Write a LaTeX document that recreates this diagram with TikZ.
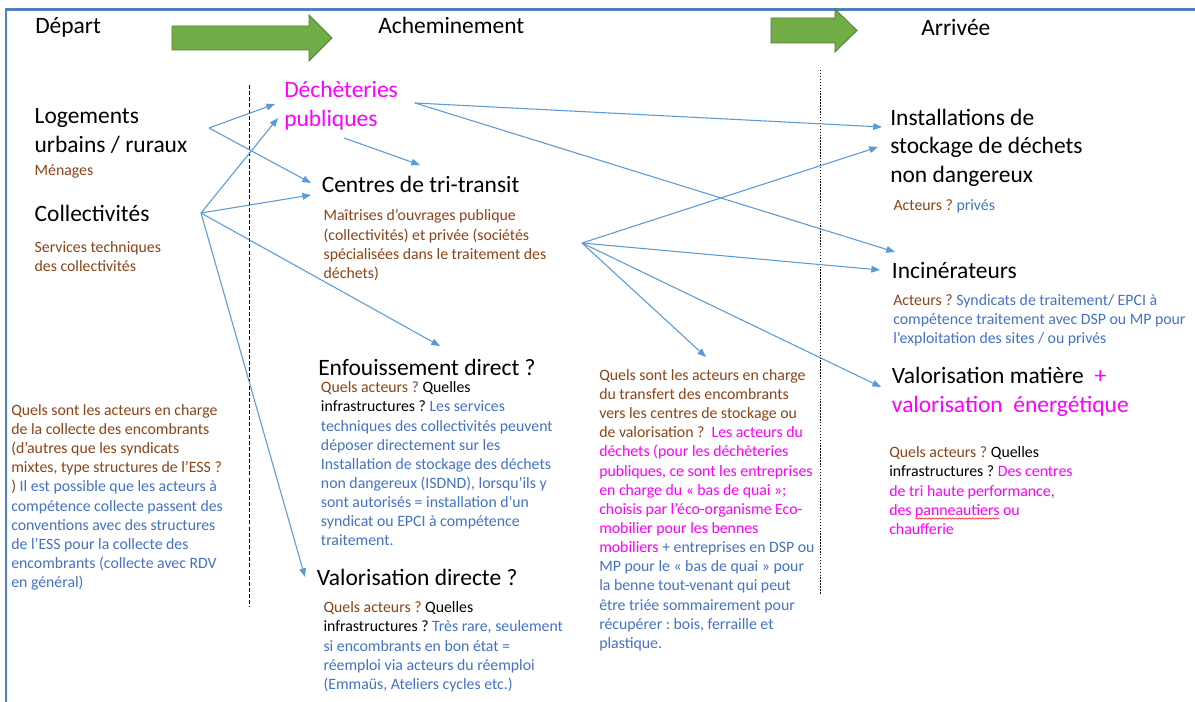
\documentclass[tikz,border=0pt]{standalone}
\usepackage{fontspec}
\setmainfont{Carlito}
\usetikzlibrary{arrows.meta,decorations.pathmorphing}
\definecolor{brn}{RGB}{140,68,22}
\definecolor{bl}{RGB}{68,114,196}
\definecolor{mg}{RGB}{255,0,255}
\definecolor{ln}{RGB}{91,155,213}
\definecolor{frm}{RGB}{79,129,189}
\definecolor{grn}{RGB}{112,173,71}
\definecolor{grnd}{RGB}{80,126,50}
\frenchspacing
\begin{document}
\begin{tikzpicture}[x=0.75pt,y=-0.75pt,
 lg/.style={font=\frenchspacing\fontsize{17.6}{21.6}\selectfont, anchor=base west, inner sep=0pt, align=left},
 sm/.style={font=\frenchspacing\fontsize{11.85}{14.36}\selectfont, anchor=base west, inner sep=0pt, align=left},
 conn/.style={draw=ln, line width=0.8pt, -{Triangle[length=6.5pt,width=5pt]}},
 garrow/.style={fill=grn, draw=grnd, line width=0.6pt},
 sep1/.style={draw=black, line width=0.6pt, dash pattern=on 3pt off 1.6pt},
 sep2/.style={draw=black, line width=0.6pt, dash pattern=on 1.1pt off 1.1pt}]
\useasboundingbox (0,0) rectangle (1195,702);
\fill[white] (0,0) rectangle (1195,702);
% frame
\draw[frm, line width=1.6pt] (6,702) -- (6,9.5) -- (1195,9.5);
% green arrows
\path[garrow] (172,26) -- (309,26) -- (309,15) -- (332,38) -- (309,61) -- (309,50) -- (172,50) -- cycle;
\path[garrow] (771,18) -- (835,18) -- (835,9) -- (857,30.5) -- (835,52) -- (835,43) -- (771,43) -- cycle;
% separators
\draw[sep1] (249.5,85) -- (249.5,607);
\draw[sep2] (820.5,70) -- (820.5,595);
% headers (base anchor = baseline of the last line)
\node[lg] (dep) at (35,34) {Départ};
\node[lg] (ach) at (378,34) {Acheminement};
\node[lg] (arr) at (921,36) {Arrivée};
% departure
\node[lg] (log) at (34.4,152.3) {Logements\\urbains / ruraux};
\node[sm,text=brn] (men) at (34.4,176) {Ménages};
\node[lg] (col) at (34.4,222) {Collectivités};
\node[sm,text=brn] (serv) at (34.4,271.2) {Services techniques\\des collectivités};
\node[sm,text=bl] (colq) at (11,587.6) {\textcolor{brn}{Quels sont les acteurs en charge}\\\textcolor{brn}{de la collecte des encombrants}\\\textcolor{brn}{(d’autres que les syndicats}\\\textcolor{brn}{mixtes, type structures de l’ESS ?}\\\textcolor{brn}{)} Il est possible que les acteurs à\\compétence collecte passent des\\conventions avec des structures\\de l’ESS pour la collecte des\\encombrants (collecte avec RDV\\en général)};
% transport
\node[lg,text=mg] (dec) at (284,126.8) {Déchèteries\\publiques};
\node[lg] (cen) at (321.5,192.5) {Centres de tri-transit};
\node[sm,text=brn] (cenq) at (323.4,278.4) {Maîtrises d’ouvrages publique\\(collectivités) et privée (sociétés\\spécialisées dans le traitement des\\déchets)};
\node[lg] (enf) at (318,375) {Enfouissement direct ?};
\node[sm,text=bl] (enfq) at (320.7,545.9) {\textcolor{brn}{Quels acteurs ?} \textcolor{black}{Quelles}\\\textcolor{black}{infrastructures ?} Les services\\techniques des collectivités peuvent\\déposer directement sur les\\Installation de stockage des déchets\\non dangereux (ISDND), lorsqu’ils y\\sont autorisés = installation d’un\\syndicat ou EPCI à compétence\\traitement.};
\node[lg] (vald) at (316.7,585) {Valorisation directe ?};
\node[sm,text=bl] (valdq) at (323.3,689.3) {\textcolor{brn}{Quels acteurs ?} \textcolor{black}{Quelles}\\\textcolor{black}{infrastructures ?} Très rare, seulement\\si encombrants en bon état =\\réemploi via acteurs du réemploi\\(Emmaüs, Ateliers cycles etc.)};
\node[sm,text=brn] (trq) at (599,648.4) {Quels sont les acteurs en charge\\du transfert des encombrants\\vers les centres de stockage ou\\de valorisation ?\ \ \textcolor{mg}{Les acteurs du}\\\textcolor{mg}{déchets (pour les déchèteries}\\\textcolor{mg}{publiques, ce sont les entreprises}\\\textcolor{mg}{en charge du «~bas de quai~»;}\\\textcolor{mg}{choisis par l’éco-organisme Eco-}\\\textcolor{mg}{mobilier pour les bennes}\\\textcolor{mg}{mobiliers} \textcolor{bl}{+ entreprises en DSP ou}\\\textcolor{bl}{MP pour le «~bas de quai~» pour}\\\textcolor{bl}{la benne tout-venant qui peut}\\\textcolor{bl}{être triée sommairement pour}\\\textcolor{bl}{récupérer : bois, ferraille et}\\\textcolor{bl}{plastique.}};
% arrival
\node[lg] (isd) at (890,182.8) {Installations de\\stockage de déchets\\non dangereux};
\node[sm] (isdq) at (893.3,211) {\textcolor{brn}{Acteurs ?} \textcolor{bl}{privés}};
\node[lg] (inc) at (891.7,278.5) {Incinérateurs};
\node[sm,text=bl] (incq) at (893,343.6) {\textcolor{brn}{Acteurs ?} Syndicats de traitement/ EPCI à\\compétence traitement avec DSP ou MP pour\\l’exploitation des sites / ou privés};
\node[lg] (valm) at (891.7,412.3) {Valorisation matière\ \ \textcolor{mg}{+}\\\textcolor{mg}{valorisation\ \ énergétique}};
\node[sm] (valmq) at (889,534.3) {\textcolor{brn}{Quels acteurs ?} Quelles\\infrastructures ? \textcolor{mg}{Des centres}\\\textcolor{mg}{de tri haute performance,}\\\textcolor{mg}{des panneautiers ou}\\\textcolor{mg}{chaufferie}};
\draw[red, line width=0.4pt, decorate, decoration={snake,amplitude=0.5pt,segment length=2.5pt}] (915,518.5) -- (999,518.5);
% connector points
\coordinate (jLog) at (209,128);
\coordinate (jCol) at (201,213);
\coordinate (jDec) at (415,103);
\coordinate (sDec) at (344,138);
\coordinate (jCen) at (582,243);
\coordinate (decA) at (275,104);
\coordinate (decB) at (278,118);
\coordinate (cenA) at (311,183);
\coordinate (cenB) at (311,195);
\coordinate (cenC) at (420,165);
\coordinate (enfA) at (440,346);
\coordinate (valdA) at (305,577);
\coordinate (isdA) at (882,127);
\coordinate (isdB) at (878,147);
\coordinate (incA) at (895,252);
\coordinate (incB) at (880,270);
\coordinate (trqA) at (706,357);
\coordinate (valmA) at (881,387);
% connectors
\draw[conn] (jLog) -- (decA);
\draw[conn] (jLog) -- (cenA);
\draw[conn] (jCol) -- (decB);
\draw[conn] (jCol) -- (cenB);
\draw[conn] (jCol) -- (enfA);
\draw[conn] (jCol) -- (valdA);
\draw[conn] (sDec) -- (cenC);
\draw[conn] (jDec) -- (isdA);
\draw[conn] (jDec) -- (incA);
\draw[conn] (jCen) -- (isdB);
\draw[conn] (jCen) -- (incB);
\draw[conn] (jCen) -- (trqA);
\draw[conn] (jCen) -- (valmA);
\end{tikzpicture}
\end{document}
